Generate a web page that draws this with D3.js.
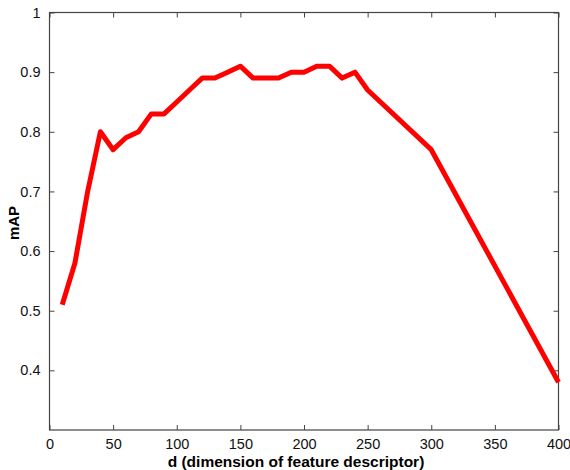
<!DOCTYPE html>
<html>
<head>
<meta charset="utf-8">
<script src="https://cdn.jsdelivr.net/npm/d3@7"></script>
<style>
  body { margin: 0; background: #fff; }
  text { font-family: "Liberation Sans", Arial, sans-serif; }
</style>
</head>
<body>
<div class="chart"></div>
<script>
// mAP vs dimension of feature descriptor

var dims = [10, 20, 30, 40, 50, 60, 70, 80, 90, 100, 110, 120, 130, 140, 150,
    160, 170, 180, 190, 200, 210, 220, 230, 240, 250, 300, 400];
var mapValues = [0.51, 0.58, 0.70, 0.80, 0.77, 0.79, 0.80, 0.83, 0.83, 0.85, 0.87, 0.89, 0.89, 0.90, 0.91,
    0.89, 0.89, 0.89, 0.90, 0.90, 0.91, 0.91, 0.89, 0.90, 0.87, 0.77, 0.38];
var xTicks = [0, 50, 100, 150, 200, 250, 300, 350, 400];
var yTicks = [0.4, 0.5, 0.6, 0.7, 0.8, 0.9, 1];

var svgWidth = 570;
var svgHeight = 470;

var margin = { top: 12.5, right: 11.5, bottom: 40, left: 49.5 };
var width = svgWidth - margin.left - margin.right;
var height = svgHeight - margin.top - margin.bottom;

var svg = d3.select(".chart")
    .append("svg")
    .attr("width", svgWidth)
    .attr("height", svgHeight);

var chartGroup = svg.append("g")
    .attr("transform", `translate(${margin.left}, ${margin.top})`);

var xScale = d3.scaleLinear().domain([0, 400]).range([0, width]);
var yScale = d3.scaleLinear().domain([0.3, 1]).range([height, 0]);

var data = dims.map((d, i) => ({ d: d, v: mapValues[i] }));

// inward ticks on all four sides, matlab box style
function styleAxis(g) {
    g.select(".domain").remove();
    g.selectAll("line").attr("stroke", "#444");
    g.selectAll("text")
        .attr("fill", "#111")
        .style("font-size", "14.5px");
}

chartGroup.append("g")
    .attr("transform", `translate(0, ${height})`)
    .call(d3.axisBottom(xScale).tickValues(xTicks).tickSize(-5).tickPadding(9).tickFormat(d3.format("d")))
    .call(styleAxis);

chartGroup.append("g")
    .call(d3.axisTop(xScale).tickValues(xTicks).tickSize(-5).tickFormat(""))
    .call(styleAxis);

chartGroup.append("g")
    .call(d3.axisLeft(yScale).tickValues(yTicks).tickSize(-5).tickPadding(9).tickFormat(d => d === 1 ? "1" : d3.format(".1f")(d)))
    .call(styleAxis);

chartGroup.append("g")
    .attr("transform", `translate(${width}, 0)`)
    .call(d3.axisRight(yScale).tickValues(yTicks).tickSize(-5).tickFormat(""))
    .call(styleAxis);

// box
chartGroup.append("rect")
    .attr("x", 0)
    .attr("y", 0)
    .attr("width", width)
    .attr("height", height)
    .attr("fill", "none")
    .attr("stroke", "#444")
    .attr("stroke-width", 1.2);

var line = d3.line()
    .x(d => xScale(d.d))
    .y(d => yScale(d.v));

chartGroup.append("path")
    .datum(data)
    .attr("d", line)
    .attr("fill", "none")
    .attr("stroke", "#ff0000")
    .attr("stroke-width", 5)
    .attr("stroke-linejoin", "round");

// axis labels
svg.append("text")
    .attr("x", 296)
    .attr("y", 467)
    .attr("text-anchor", "middle")
    .style("font-size", "15.5px")
    .style("font-weight", "bold")
    .text("d (dimension of feature descriptor)");

svg.append("text")
    .attr("transform", "translate(18.5, 223) rotate(-90)")
    .attr("text-anchor", "middle")
    .style("font-size", "15px")
    .style("font-weight", "bold")
    .text("mAP");
</script>
</body>
</html>
